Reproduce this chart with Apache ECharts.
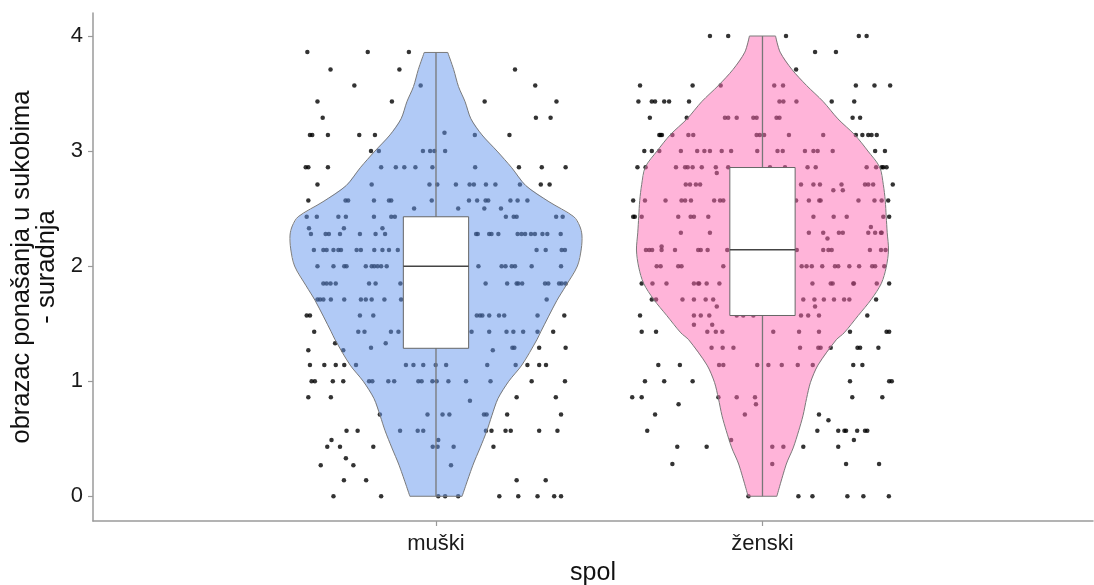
<!DOCTYPE html>
<html>
<head>
<meta charset="utf-8">
<script src="https://cdn.jsdelivr.net/npm/echarts@6/dist/echarts.min.js"></script>
<style>
html,body{margin:0;padding:0;background:#fff;}
#chart{width:1094px;height:585px;}
</style>
</head>
<body>
<div id="chart"></div>
<script>
// ---------- DATA ----------
const categories = ['muški', 'ženski'];
const yTicks = [0, 1, 2, 3, 4];
const yTitle = 'obrazac ponašanja u sukobima\n- suradnja';
const xTitle = 'spol';

// violin outline: y levels and half-widths (in category units)
const muskiViolinY = [0, 0.27, 0.42, 0.57, 0.70, 0.85, 1.0, 1.14, 1.36, 1.43, 1.70, 1.83, 2.0, 2.15, 2.27, 2.35, 2.43, 2.56, 2.70, 2.855, 3.0, 3.14, 3.28, 3.43, 3.56, 3.71, 3.857];
const muskiViolinW = [0.080, 0.113, 0.135, 0.156, 0.171, 0.190, 0.223, 0.263, 0.309, 0.321, 0.370, 0.398, 0.433, 0.445, 0.447, 0.440, 0.422, 0.346, 0.275, 0.232, 0.187, 0.141, 0.107, 0.089, 0.069, 0.054, 0.036];
const zenskiViolinY = [0, 0.28, 0.42, 0.57, 0.70, 0.85, 0.99, 1.14, 1.36, 1.42, 1.57, 1.71, 1.85, 1.99, 2.14, 2.29, 2.43, 2.57, 2.71, 2.86, 3.0, 3.14, 3.28, 3.43, 3.57, 3.71, 3.86, 4.0];
const zenskiViolinW = [0.044, 0.073, 0.094, 0.111, 0.124, 0.135, 0.147, 0.170, 0.226, 0.250, 0.293, 0.333, 0.364, 0.379, 0.386, 0.382, 0.379, 0.376, 0.370, 0.359, 0.323, 0.283, 0.231, 0.186, 0.135, 0.090, 0.054, 0.040];

// box plot stats: [min, q1, median, q3, max]
const muskiBox = [0, 1.286, 2.0, 2.429, 3.857];
const zenskiBox = [0, 1.571, 2.143, 2.857, 4.0];

// jittered observations: [y, [horizontal offsets from category centre]]
const muskiPoints = [
  [3.86, [-0.394, -0.209, -0.083]],
  [3.71, [-0.323, -0.112, 0.242]],
  [3.57, [-0.250, -0.047, 0.304]],
  [3.43, [-0.363, -0.135, 0.149, 0.369]],
  [3.29, [-0.347, 0.306, 0.351]],
  [3.16, [0.026]],
  [3.14, [-0.386, -0.379, -0.331, -0.235, -0.187, 0.119, 0.225]],
  [3.00, [-0.199, -0.175, -0.040, -0.018, -0.005, 0.028]],
  [2.86, [-0.399, -0.391, -0.331, -0.168, -0.123, -0.097, -0.063, -0.011, 0.120, 0.254, 0.324, 0.397]],
  [2.71, [-0.363, -0.197, -0.020, 0.004, 0.061, 0.103, 0.116, 0.153, 0.182, 0.257, 0.321, 0.348]],
  [2.57, [-0.391, -0.277, -0.269, -0.190, -0.144, -0.137, -0.013, 0.101, 0.126, 0.152, 0.160, 0.228, 0.250, 0.280]],
  [2.50, [-0.067, 0.068, 0.148, 0.199]],
  [2.43, [-0.396, -0.365, -0.299, -0.276, -0.190, -0.137, -0.126, 0.214, 0.238, 0.247, 0.368, 0.388]],
  [2.33, [-0.389, -0.282, -0.164]],
  [2.28, [-0.383, -0.338, -0.328, -0.294, -0.233, -0.185, -0.156, 0.123, 0.128, 0.163, 0.170, 0.191, 0.250, 0.262, 0.273, 0.291, 0.303, 0.326, 0.341, 0.382]],
  [2.14, [-0.374, -0.345, -0.335, -0.314, -0.299, -0.291, -0.243, -0.230, -0.189, -0.164, -0.144, -0.117, 0.308, 0.336, 0.385, 0.395]],
  [2.00, [-0.363, -0.314, -0.281, -0.274, -0.215, -0.197, -0.189, -0.179, -0.168, -0.151, 0.130, 0.201, 0.213, 0.232, 0.242, 0.293, 0.383]],
  [1.85, [-0.345, -0.335, -0.323, -0.307, -0.205, -0.185, -0.109, 0.152, 0.218, 0.247, 0.252, 0.264, 0.334, 0.344, 0.377, 0.385, 0.397]],
  [1.71, [-0.363, -0.355, -0.345, -0.322, -0.281, -0.230, -0.215, -0.197, -0.158, -0.107, 0.339]],
  [1.57, [-0.396, -0.386, -0.233, -0.192, 0.125, 0.135, 0.142, 0.163, 0.193, 0.209, 0.311, 0.393]],
  [1.43, [-0.373, -0.238, -0.219, -0.138, -0.115, 0.109, 0.163, 0.216, 0.237, 0.267, 0.311, 0.359]],
  [1.33, [-0.309, -0.154]],
  [1.29, [-0.199, 0.234, 0.240, 0.316, 0.397]],
  [1.27, [-0.391, -0.284, 0.174]],
  [1.14, [-0.386, -0.342, -0.307, -0.281, -0.245, -0.092, -0.069, -0.039, -0.001, 0.031, 0.157, 0.244, 0.280, 0.316, 0.337]],
  [1.00, [-0.381, -0.371, -0.316, -0.284, -0.205, -0.195, -0.146, -0.128, -0.054, -0.044, -0.011, 0.002, 0.038, 0.092, 0.167, 0.293, 0.395]],
  [0.86, [-0.391, -0.322, 0.247, 0.367]],
  [0.83, [0.104]],
  [0.71, [-0.172, -0.026, 0.020, 0.041, 0.147, 0.155, 0.218, 0.383]],
  [0.57, [-0.274, -0.240, -0.110, -0.056, -0.039, 0.153, 0.170, 0.213, 0.229, 0.316, 0.372]],
  [0.49, [-0.320, 0.007]],
  [0.43, [-0.333, -0.294, -0.192, -0.010, 0.005, 0.054, 0.176]],
  [0.33, [-0.276]],
  [0.27, [-0.353, -0.253, 0.046]],
  [0.14, [-0.282, -0.214, 0.247, 0.336]],
  [0.00, [-0.314, -0.168, 0.007, 0.028, 0.068, 0.194, 0.252, 0.311, 0.362, 0.383]]
];
const zenskiPoints = [
  [4.00, [-0.161, -0.105, 0.072, 0.295, 0.319]],
  [3.86, [0.161, 0.225]],
  [3.71, [0.103]],
  [3.57, [-0.375, -0.214, -0.128, 0.036, 0.063, 0.286, 0.343, 0.391]],
  [3.43, [-0.380, -0.339, -0.329, -0.301, -0.286, -0.225, 0.052, 0.064, 0.104, 0.212, 0.281]],
  [3.29, [-0.345, -0.232, -0.115, -0.105, -0.079, -0.028, -0.018, 0.043, 0.052, 0.276, 0.299]],
  [3.14, [-0.316, -0.312, -0.308, -0.276, -0.227, -0.212, -0.018, -0.008, 0.005, 0.081, 0.186, 0.286, 0.306, 0.324, 0.334, 0.350]],
  [3.00, [-0.362, -0.339, -0.316, -0.250, -0.200, -0.178, -0.161, -0.125, -0.096, -0.016, 0.046, 0.062, 0.130, 0.156, 0.169, 0.215, 0.345, 0.375]],
  [2.86, [-0.383, -0.358, -0.265, -0.237, -0.229, -0.214, -0.186, -0.143, -0.105, 0.023, 0.069, 0.138, 0.163, 0.319, 0.348, 0.365, 0.370, 0.380]],
  [2.81, [-0.140]],
  [2.71, [-0.235, -0.222, -0.204, -0.191, 0.118, 0.156, 0.176, 0.242, 0.314, 0.324, 0.339, 0.399]],
  [2.66, [0.217, 0.246]],
  [2.57, [-0.396, -0.360, -0.297, -0.248, -0.237, -0.219, -0.148, -0.130, -0.120, 0.103, 0.142, 0.174, 0.178, 0.294, 0.343, 0.365, 0.385]],
  [2.43, [-0.396, -0.391, -0.370, -0.258, -0.220, -0.210, -0.166, 0.156, 0.218, 0.258, 0.370, 0.388]],
  [2.34, [0.332]],
  [2.29, [-0.250, -0.161, 0.142, 0.186, 0.234, 0.246, 0.324, 0.345, 0.363, 0.365]],
  [2.24, [0.199]],
  [2.17, [-0.309]],
  [2.14, [-0.357, -0.347, -0.338, -0.309, -0.268, -0.197, -0.189, -0.168, -0.108, 0.105, 0.186, 0.202, 0.212, 0.329, 0.363, 0.377]],
  [2.00, [-0.324, -0.312, -0.258, -0.248, -0.120, 0.120, 0.135, 0.151, 0.183, 0.222, 0.232, 0.266, 0.296, 0.336, 0.345, 0.373]],
  [1.85, [-0.370, -0.337, -0.294, -0.210, -0.197, -0.194, -0.171, -0.132, 0.153, 0.209, 0.215, 0.278, 0.280, 0.350, 0.388]],
  [1.71, [-0.339, -0.326, -0.245, -0.210, -0.174, -0.151, 0.125, 0.159, 0.188, 0.219, 0.250, 0.266, 0.348]],
  [1.65, [-0.140, 0.161]],
  [1.57, [-0.375, -0.210, -0.189, -0.163, -0.079, -0.059, -0.028, 0.118, 0.140, 0.173, 0.321]],
  [1.49, [-0.210, -0.154]],
  [1.43, [-0.370, -0.326, -0.169, -0.143, -0.123, 0.033, 0.112, 0.173, 0.268, 0.380, 0.388]],
  [1.29, [-0.156, -0.122, -0.089, 0.115, 0.171, 0.178, 0.209, 0.291, 0.299, 0.355]],
  [1.14, [-0.319, -0.253, -0.133, -0.120, -0.016, 0.018, 0.059, 0.108, 0.154, 0.278, 0.306]],
  [1.00, [-0.360, -0.301, -0.214, 0.268, 0.388, 0.396]],
  [0.86, [-0.399, -0.370, -0.135, -0.079, -0.023, 0.275, 0.367]],
  [0.80, [-0.257, -0.020]],
  [0.71, [-0.329, -0.054, 0.173]],
  [0.66, [0.202]],
  [0.57, [-0.353, 0.168, 0.232, 0.251, 0.256, 0.290, 0.314, 0.321]],
  [0.49, [-0.096, 0.280]],
  [0.43, [-0.261, -0.171, 0.030, 0.064, 0.125, 0.232]],
  [0.28, [-0.276, 0.030, 0.256, 0.357]],
  [0.00, [-0.043, 0.110, 0.153, 0.260, 0.309, 0.387]]
];

// ---------- BUILD ----------
const violinFill = ['rgba(100,149,237,0.5)', 'rgba(255,105,180,0.5)'];
const violins = [[muskiViolinY, muskiViolinW], [zenskiViolinY, zenskiViolinW]];
const boxes = [muskiBox, zenskiBox];
const pointSets = [muskiPoints, zenskiPoints];

function scatterData() {
  const out = [];
  pointSets.forEach((rows, gi) => {
    const cx = gi + 1;
    rows.forEach(([y, xs]) => xs.forEach(dx => out.push([cx + dx, y])));
  });
  return out;
}

const FONT = 'Liberation Sans, Arial, sans-serif';
const AXIS_COLOR = '#9a9a9a';

const chart = echarts.init(document.getElementById('chart'), null, {renderer: 'canvas'});
chart.setOption({
  animation: false,
  backgroundColor: '#fff',
  grid: {left: 93, right: 1, top: 13, bottom: 64, containLabel: false, outerBoundsMode: 'none'},
  xAxis: {
    type: 'value', min: -0.0505, max: 3.0123,
    name: xTitle, nameLocation: 'middle', nameGap: 40,
    nameTextStyle: {fontFamily: FONT, fontSize: 25, color: '#111', verticalAlign: 'top'},
    axisLine: {show: true, onZero: false, lineStyle: {color: AXIS_COLOR, width: 1.5}},
    axisTick: {show: true, length: 5, lineStyle: {color: AXIS_COLOR, width: 1.2}, customValues: [1, 2]},
    axisLabel: {fontFamily: FONT, fontSize: 22, color: '#1a1a1a', margin: 12, customValues: [1, 2],
      formatter: v => categories[Math.round(v) - 1] || ''},
    splitLine: {show: false}
  },
  yAxis: {
    type: 'value', min: -0.215, max: 4.2,
    name: yTitle, nameLocation: 'middle', nameRotate: 90, nameGap: 31,
    nameTextStyle: {fontFamily: FONT, fontSize: 25.5, color: '#111', lineHeight: 25, align: 'center'},
    axisLine: {show: true, onZero: false, lineStyle: {color: AXIS_COLOR, width: 1.5}},
    axisTick: {show: true, length: 5, lineStyle: {color: AXIS_COLOR, width: 1.2}, customValues: yTicks},
    axisLabel: {fontFamily: FONT, fontSize: 22, color: '#1a1a1a', margin: 10, customValues: yTicks,
      formatter: v => String(v)},
    splitLine: {show: false}
  },
  series: [
    {
      type: 'scatter', z: 1,
      symbol: 'circle', symbolSize: 4.5,
      itemStyle: {color: '#000'},
      data: scatterData(),
      silent: true
    },
    {
      type: 'custom', z: 2, silent: true,
      data: [[1, 0], [2, 0]],
      encode: {x: 0, y: 1},
      renderItem: function (params, api) {
        const gi = params.dataIndex;
        const cx = api.value(0);
        const ys = violins[gi][0], ws = violins[gi][1];
        const right = [], left = [];
        for (let i = 0; i < ys.length; i++) right.push(api.coord([cx + ws[i], ys[i]]));
        for (let i = ys.length - 1; i >= 0; i--) left.push(api.coord([cx - ws[i], ys[i]]));
        return {
          type: 'group',
          children: [
            {type: 'polygon', shape: {points: right.concat(left)}, style: {fill: violinFill[gi]}},
            {type: 'polyline', shape: {points: right, smooth: 0.3}, style: {fill: null, stroke: '#7a7a7a', lineWidth: 1}},
            {type: 'polyline', shape: {points: left, smooth: 0.3}, style: {fill: null, stroke: '#7a7a7a', lineWidth: 1}},
            {type: 'line', shape: {x1: right[0][0], y1: right[0][1], x2: left[left.length - 1][0], y2: left[left.length - 1][1]}, style: {stroke: '#7a7a7a', lineWidth: 1}},
            {type: 'line', shape: {x1: right[right.length - 1][0], y1: right[right.length - 1][1], x2: left[0][0], y2: left[0][1]}, style: {stroke: '#7a7a7a', lineWidth: 1}}
          ]
        };
      }
    },
    {
      type: 'custom', z: 3, silent: true,
      data: [[1, 0], [2, 0]],
      encode: {x: 0, y: 1},
      renderItem: function (params, api) {
        const gi = params.dataIndex;
        const cx = api.value(0);
        const b = boxes[gi];
        const hw = 0.1;
        const pLo = api.coord([cx, b[0]]), pHi = api.coord([cx, b[4]]);
        const tl = api.coord([cx - hw, b[3]]), br = api.coord([cx + hw, b[1]]);
        const mL = api.coord([cx - hw, b[2]]), mR = api.coord([cx + hw, b[2]]);
        return {
          type: 'group',
          children: [
            {type: 'line', shape: {x1: pLo[0], y1: pLo[1], x2: pHi[0], y2: pHi[1]},
              style: {stroke: '#777', lineWidth: 1.3}},
            {type: 'rect', shape: {x: tl[0], y: tl[1], width: br[0] - tl[0], height: br[1] - tl[1]},
              style: {fill: '#fff', stroke: '#666', lineWidth: 1}},
            {type: 'line', shape: {x1: mL[0], y1: mL[1], x2: mR[0], y2: mR[1]},
              style: {stroke: '#444', lineWidth: 1.5}}
          ]
        };
      }
    }
  ]
});
</script>
</body>
</html>
